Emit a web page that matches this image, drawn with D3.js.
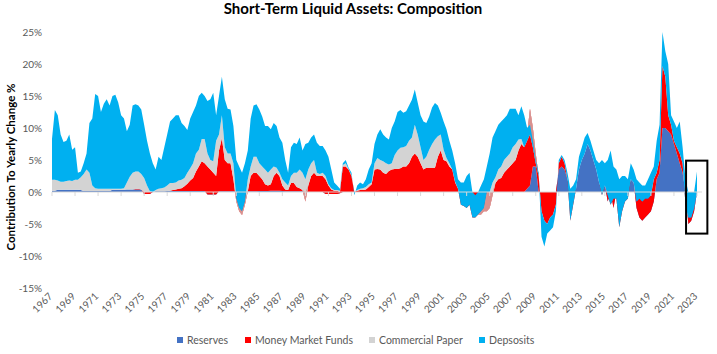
<!DOCTYPE html>
<html><head><meta charset="utf-8">
<script src="https://cdn.jsdelivr.net/npm/d3@7/dist/d3.min.js"></script>
<style>body{margin:0;background:#fff}svg{display:block}</style>
</head><body><svg id="chart" width="717" height="354"></svg>
<script>
// quarterly observations starting 1967 Q1 (contribution to yearly change, %)
const startYear = 1967, periodsPerYear = 4;
const reserves = [
.2,.2,.35,.35,.35,.35,.35,.35,.35,.35,
.3,.15,.15,.15,.15,.15,.15,.15,.15,.15,
.15,.35,.35,.35,.35,.35,.4,.4,.4,.4,
.4,.4,-.3,-.3,-.3,0,.1,.1,.1,.1,
.15,.15,.15,.15,.15,.15,.15,.15,.15,.15,
.15,.15,.15,.15,-.4,-.4,-.4,-.4,.1,.1,
.1,.1,.1,.1,0,0,0,0,.1,.1,
.1,.1,.15,.15,.15,.15,.2,.2,.2,.2,
.15,.1,.1,.1,.1,.1,.1,.1,0,0,
0,0,0,0,0,-.3,-.3,-.3,-.3,-.3,
-.2,0,0,0,0,0,0,0,0,0,
0,0,0,0,0,0,0,0,0,0,
0,0,0,0,0,0,0,0,0,0,
0,0,0,0,0,0,0,0,0,0,
0,0,0,0,0,0,0,0,0,0,
0,0,0,0,0,0,0,0,0,0,
0,0,0,0,0,.5,1,4,4,0,
0,0,0,0,0,0,3.5,4,3.5,2,
0,0,.5,3.5,5,6,7.5,6.5,5,3.5,
1.5,0,1,-1.5,0,-2.5,0,0,0,0,
0,2,1.5,-2.5,-4,-4.5,-4,-3.5,-3,-1.5,
2,3,10,10,9.5,9,7.5,6,4.5,3,
0,-5,-4.5,-3,0];
const moneyMarketFunds = [
0,0,0,0,0,0,0,0,0,0,
0,0,0,0,0,0,0,0,0,0,
0,0,0,0,0,0,0,0,0,.05,
.1,0,.3,.3,.3,0,0,0,0,0,
0,.05,.15,.25,.35,.45,.75,1.15,1.65,2.05,
3.05,3.85,4.65,4.35,4.4,3.9,3.4,2.9,6.4,8.3,
4.9,4.4,4.4,1.9,-1.5,-3,-3.6,-2,0,2.4,
2.9,2.9,2.35,1.85,1.05,.85,1,2.3,2.8,2.3,
.85,.3,.2,1.3,1.3,.7,.5,.2,-1.5,1,
2.5,3,2.5,2.5,2.5,2.3,1.3,.7,.5,.5,
.2,4,4,3.5,2.5,0,.2,.3,.3,.4,
.8,1.2,3.5,3.6,3.5,3,2.8,3.3,3.5,3.6,
3.6,3.7,4,4,4.5,5.5,6,5.5,4.5,3.5,
3.8,3.8,3.8,3.8,5.5,6.5,5,4.8,4,3.5,
1.5,.5,-2,-2.2,-2.5,-2,-4,-4,-3.5,-3.5,
-3,-3,-2.5,-.5,1.4,2,2.2,3,3.5,4,
4.5,5,6.5,7.5,7,8.5,12,6,2,2.5,
-3,-4.5,-5,-4,-3.5,-2,1,1.5,1,0,
-4.5,-2,0,0,0,0,0,0,0,0,
0,-.5,0,1,-2,1.5,-1,-5.5,-3,-1.5,
-1,0,0,1,3,3,3,2.5,2.5,3.5,
1,2,9.7,8,2.5,1.5,.5,1,1.5,1.5,
-2,1,.5,.5,0];
const commercialPaper = [
1.7,1.7,1.45,1.25,1.25,1.35,1.45,1.35,1.55,1.55,
2,2.65,3.35,2.85,.85,.45,.35,.35,.35,.35,
.35,.15,.15,.15,.15,.25,1.1,2,2.6,2.75,
2.7,2.4,2.2,1,.1,0,.2,.4,.5,.6,
.85,1.2,1.1,1.1,1.3,1.3,1.3,1.7,1.9,2.3,
2.8,2.6,3.5,3.8,2,1.5,1.8,5.5,2.5,3.6,
2,1.5,1.5,2.5,.5,.5,.6,.5,1.9,1.5,
2.5,2.5,2,2,2.3,2,2.3,1.5,.8,.5,
1,1.1,.7,1.1,1.6,2.2,2.9,2.7,3.5,2.5,
2,2,.5,.3,.5,.5,.2,.2,.1,.1,
.2,.2,.5,.1,.1,0,.1,.2,.3,.4,
.4,.3,1,1.7,1.5,1.8,1.7,1,1,2.2,
2.9,3.2,3,3.2,3.5,3,4.5,3.5,2.5,1.5,
1.7,2.8,3.7,4.4,3.2,2.5,1.6,.5,.5,0,
.1,0,0,0,0,0,0,0,0,.5,
.5,3,2.5,2,.9,1.5,1.8,2,2,2,
2.5,2.5,1.7,.8,0,-1,-4,-3,-1.5,0,
0,0,0,0,0,0,0,0,0,0,
0,0,0,0,0,0,0,0,0,0,
0,0,0,0,0,0,0,0,0,0,
0,0,0,0,0,0,0,0,0,0,
0,0,0,0,0,0,0,0,0,0,
0,0,0,0,0];
const deposits = [
6.4,10.9,10.2,7.4,6.2,6.3,7.2,4.9,5.1,1.1,
.9,1.7,2.5,7.8,10.5,14.7,14.5,12,13.3,14,
13,14.5,14.7,13.5,11.5,10.9,8,8.1,10.5,10.5,
10.3,10.1,8.3,7,5.9,4.5,3.2,5,4.4,6.3,
8,9.6,10.1,10.5,10.2,8.9,8.1,6.7,7.8,8,
7.5,8.4,7.2,6.7,8.2,9.5,10.7,4,6,6,
7.5,7,6.9,5.8,6,6.5,6,6,4.5,7.5,
8,8.2,8.4,7.8,6.8,7.3,6.3,6.8,6.5,5.5,
5.7,3.5,2,4.5,4.7,4.5,5,3.5,5.5,4.2,
4,4,4.7,4.4,4.2,4,4.3,2.9,1.2,.7,
.3,.3,.5,.2,.4,-.5,.7,1,.6,1.2,
2.3,3,3,3.7,4.8,4.2,4,3.9,5.5,5.2,
6,5.9,5.4,5.4,5.5,5.9,5.5,5,5,6,
5.3,5.2,5.7,5.7,4.8,3.4,4.4,4.5,3.5,3,
2.9,1.5,3.5,3.7,5,5,4,3.5,3.5,4,
4.5,4,6,7,7.2,7,7,6.5,6.5,7,
6,5.5,3.8,5.1,5,2,1.5,1,.5,.5,
-4,-4,-1.5,-2,-2,-1,.5,.3,.5,1,
5,3,1.5,2,2,2.5,1.7,1.5,1.5,1.5,
3,5.5,3.5,5.5,8.5,5,4.5,7.5,5.5,4,
3,2.5,2,3.5,2.5,2.5,2,3,3.5,2,
5,5.5,5.3,4,8,1.5,3,3,5,2.5,
4,4,4,2.5,3.2];
const seriesNames = ["Reserves", "Money Market Funds", "Commercial Paper", "Depsosits"];
const seriesColors = ["#4472C4", "#FF0000", "#D3D3D3", "#00B0F0"];
const overlapColor = "#D9918F";
const yTickValues = [25, 20, 15, 10, 5, 0, -5, -10, -15];
const xTickYears = d3.range(1967, 2024, 2);
const highlight = {from: 2022.05, to: 2023.9, top: 4.9, bottom: -6.5};

const svg = d3.select("#chart");
const FONT = "Lato, 'Open Sans', 'Liberation Sans', sans-serif";
const x = d3.scaleLinear().domain([1967, 2023]).range([52, 697]);
const y = d3.scaleLinear().domain([-15, 25]).range([288, 32]);

const rows = reserves.map((r, i) => {
  const c1 = r, c2 = c1 + moneyMarketFunds[i], c3 = c2 + commercialPaper[i], c4 = c3 + deposits[i];
  const m = moneyMarketFunds[i], c = commercialPaper[i];
  const ov = (m * c < 0) ? Math.sign(c) * Math.min(Math.abs(m), Math.abs(c)) : 0;
  return {t: startYear + i / periodsPerYear, c1, c2, c3, c4, o0: c2, o1: c2 + ov};
});

const layers = [
  {color: seriesColors[0], y0: d => 0, y1: d => d.c1},
  {color: seriesColors[1], y0: d => d.c1, y1: d => d.c2},
  {color: seriesColors[2], y0: d => d.c2, y1: d => d.c3},
  {color: overlapColor, y0: d => d.o0, y1: d => d.o1},
  {color: seriesColors[3], y0: d => d.c3, y1: d => d.c4}
];
const g = svg.append("g");
layers.forEach(L => {
  g.append("path").datum(rows)
    .attr("fill", L.color)
    .attr("d", d3.area().x(d => x(d.t)).y0(d => y(L.y0(d))).y1(d => y(L.y1(d))));
});

// zero axis line + ticks
svg.append("line").attr("x1", x(1967)).attr("x2", x(2023) + 5)
  .attr("y1", y(0)).attr("y2", y(0)).attr("stroke", "#d9d9d9").attr("stroke-width", 1);
svg.selectAll(".xt").data(xTickYears).enter().append("line")
  .attr("x1", d => x(d)).attr("x2", d => x(d)).attr("y1", y(0)).attr("y2", y(0) + 4)
  .attr("stroke", "#d9d9d9");

// y tick labels
svg.selectAll(".yl").data(yTickValues).enter().append("text")
  .attr("x", 42).attr("y", d => y(d)).attr("dy", "0.35em")
  .attr("text-anchor", "end").attr("font-family", FONT).attr("font-size", 10)
  .attr("fill", "#595959").text(d => d + "%");

// x tick labels
svg.selectAll(".xl").data(xTickYears).enter().append("text")
  .attr("transform", d => `translate(${x(d) + 1},297) rotate(-45)`)
  .attr("text-anchor", "end").attr("font-family", FONT).attr("font-size", 10)
  .attr("fill", "#595959").text(d => d);

// title
svg.append("text").attr("x", 353).attr("y", 13.5).attr("text-anchor", "middle")
  .attr("font-family", FONT).attr("font-weight", "bold").attr("font-size", 15)
  .attr("fill", "#000").text("Short-Term Liquid Assets: Composition");

// y axis title
svg.append("text").attr("transform", "translate(15,167) rotate(-90)")
  .attr("text-anchor", "middle").attr("font-family", FONT).attr("font-weight", "bold")
  .attr("font-size", 11.5).attr("fill", "#000").text("Contribution To Yearly Change %");

// legend
const legendX = [177, 245, 369, 479];
const lg = svg.selectAll(".lg").data(seriesNames).enter().append("g")
  .attr("transform", (d, i) => `translate(${legendX[i]},337)`);
lg.append("rect").attr("width", 6).attr("height", 6).attr("fill", (d, i) => seriesColors[i]);
lg.append("text").attr("x", 10).attr("y", 3).attr("dy", "0.35em")
  .attr("font-family", FONT).attr("font-size", 10.5).attr("fill", "#595959").text(d => d);

// highlight box
svg.append("rect").attr("x", x(highlight.from)).attr("y", y(highlight.top))
  .attr("width", x(highlight.to) - x(highlight.from)).attr("height", y(highlight.bottom) - y(highlight.top))
  .attr("fill", "none").attr("stroke", "#000").attr("stroke-width", 2);
</script></body></html>
